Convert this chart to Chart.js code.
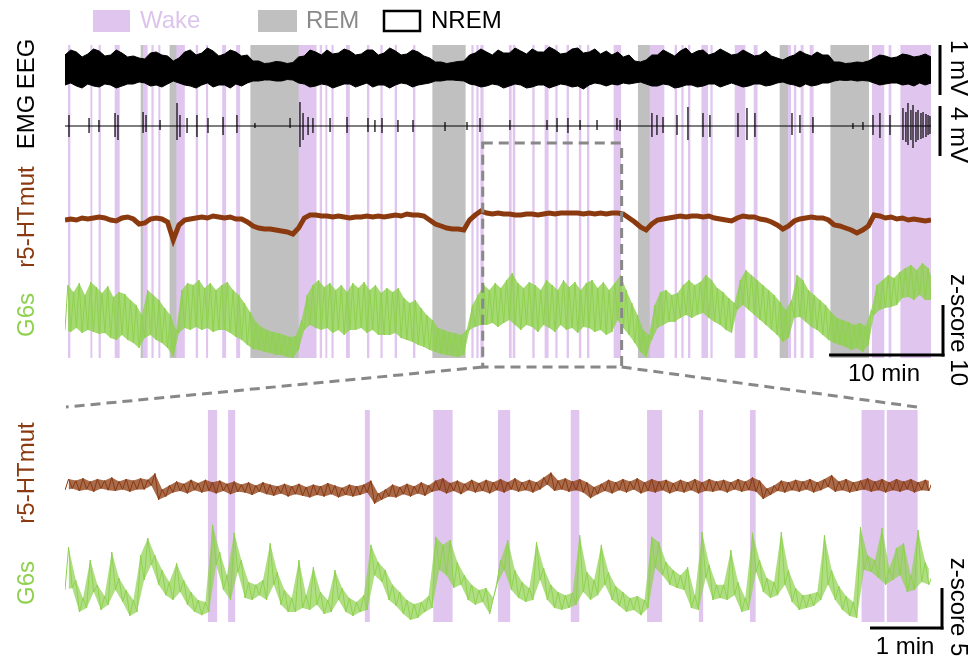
<!DOCTYPE html>
<html>
<head>
<meta charset="utf-8">
<script src="https://cdn.jsdelivr.net/npm/chart.js@4.4.0/dist/chart.umd.min.js"></script>
<style>
body{margin:0;background:#fff;}
#wrap{position:relative;width:974px;height:665px;}
canvas{position:absolute;left:0;top:0;}
</style>
</head>
<body>
<div id="wrap">
<canvas id="topChart" width="974" height="665"></canvas>
<canvas id="botChart" width="974" height="665"></canvas>
</div>
<script>
// ---- data, top panel (minutes) ----
var wakeTop = [[0.29,0.44],[2.26,2.37],[2.98,3.12],[4.39,4.77],[6.87,7.22],[7.61,7.75],[8.22,8.34],[9.80,10.49],[11.50,11.65],[12.40,12.53],[13.82,14.11],[15.05,15.34],[20.54,22.05],[22.38,22.53],[22.88,22.99],[23.41,23.55],[24.69,24.97],[26.53,26.68],[27.71,27.85],[28.96,29.11],[30.57,30.72],[35.69,35.83],[36.13,36.27],[36.48,36.71],[38.99,39.17],[39.32,39.49],[41.04,41.19],[42.12,42.41],[43.06,43.20],[44.05,44.20],[45.13,45.28],[45.84,45.99],[48.18,48.77],[51.34,52.57],[53.53,53.68],[54.12,54.26],[54.70,54.85],[55.88,56.40],[56.67,56.81],[58.80,59.68],[60.47,60.75],[63.48,63.69],[64.00,64.15],[64.59,64.79],[65.38,65.67],[70.85,71.87],[72.31,72.49],[73.34,75.97]];
var remTop = [[6.67,6.87],[9.21,9.80],[16.30,20.54],[32.27,35.13],[50.31,51.34],[62.75,63.48],[67.20,70.53]];

// EEG envelope, 0.5 min bins (mV)
var eegHi = [0.30,0.40,0.36,0.26,0.32,0.42,0.38,0.28,0.30,0.40,
    0.34,0.26,0.28,0.24,0.22,0.34,0.36,0.30,0.28,0.18,
    0.24,0.36,0.40,0.30,0.34,0.44,0.38,0.28,0.32,0.40,
    0.36,0.28,0.30,0.18,0.18,0.13,0.14,0.17,0.16,0.13,
    0.15,0.26,0.28,0.40,0.36,0.30,0.40,0.32,0.34,0.42,
    0.38,0.30,0.32,0.40,0.40,0.30,0.34,0.44,0.38,0.30,
    0.32,0.40,0.36,0.28,0.24,0.16,0.16,0.13,0.15,0.17,
    0.18,0.30,0.34,0.42,0.36,0.30,0.40,0.34,0.34,0.44,
    0.38,0.32,0.42,0.36,0.36,0.46,0.40,0.32,0.34,0.42,
    0.44,0.34,0.36,0.42,0.32,0.38,0.30,0.36,0.26,0.30,
    0.18,0.16,0.20,0.30,0.30,0.40,0.34,0.28,0.38,0.44,
    0.32,0.38,0.40,0.30,0.34,0.42,0.36,0.30,0.32,0.40,
    0.34,0.28,0.30,0.38,0.28,0.24,0.20,0.26,0.30,0.38,
    0.32,0.28,0.36,0.30,0.30,0.16,0.16,0.13,0.14,0.16,
    0.15,0.18,0.24,0.30,0.28,0.24,0.26,0.32,0.30,0.26,
    0.28,0.32,0.26];
var eegLo = [-0.30,-0.26,-0.32,-0.36,-0.28,-0.32,-0.34,-0.28,-0.30,-0.36,
    -0.32,-0.28,-0.28,-0.24,-0.26,-0.32,-0.30,-0.34,-0.28,-0.22,
    -0.26,-0.30,-0.32,-0.36,-0.30,-0.26,-0.34,-0.30,-0.30,-0.36,
    -0.28,-0.32,-0.26,-0.22,-0.22,-0.20,-0.20,-0.22,-0.22,-0.19,
    -0.20,-0.26,-0.28,-0.34,-0.32,-0.28,-0.30,-0.36,-0.32,-0.28,
    -0.28,-0.34,-0.30,-0.26,-0.34,-0.30,-0.30,-0.36,-0.30,-0.26,
    -0.28,-0.34,-0.30,-0.28,-0.26,-0.22,-0.22,-0.20,-0.20,-0.21,
    -0.22,-0.28,-0.30,-0.34,-0.32,-0.28,-0.30,-0.36,-0.32,-0.28,
    -0.30,-0.36,-0.34,-0.30,-0.30,-0.36,-0.32,-0.28,-0.30,-0.34,
    -0.32,-0.38,-0.30,-0.26,-0.28,-0.32,-0.28,-0.30,-0.26,-0.28,
    -0.26,-0.24,-0.28,-0.32,-0.32,-0.28,-0.30,-0.36,-0.34,-0.30,
    -0.30,-0.34,-0.32,-0.28,-0.28,-0.34,-0.30,-0.26,-0.30,-0.34,
    -0.32,-0.28,-0.28,-0.32,-0.30,-0.26,-0.24,-0.28,-0.30,-0.34,
    -0.28,-0.32,-0.30,-0.26,-0.26,-0.22,-0.20,-0.21,-0.20,-0.22,
    -0.21,-0.22,-0.26,-0.30,-0.28,-0.26,-0.26,-0.30,-0.28,-0.32,
    -0.26,-0.30,-0.26];

// EMG bursts: time (min), peak up / down (mV)
var emgT = [0.35,2.11,2.98,4.39,4.65,6.85,7.11,8.34,9.83,10.09,10.71,11.58,12.55,13.87,15.09,16.67,19.75,20.62,20.89,21.33,21.76,23.26,24.75,26.59,27.20,27.82,29.22,30.54,33.35,35.28,36.42,39.05,42.30,43.18,44.14,45.20,46.69,48.44,48.71,51.51,51.95,52.48,53.71,54.67,55.99,56.60,59.06,59.85,60.55,63.80,64.50,65.64,69.15,70.03,70.91,71.52,72.40,73.54,73.80,73.98,74.24,74.42,74.68,74.86,75.12,75.30,75.56,75.74,75.91];
var emgHi = [0.88,0.64,0.48,1.04,0.88,1.12,0.88,0.48,1.84,0.88,0.64,0.88,0.64,0.72,0.88,0.24,0.64,1.92,1.04,0.72,0.64,0.64,0.72,0.64,0.48,0.64,0.48,0.48,0.32,0.32,0.64,0.48,0.48,0.64,0.64,0.48,0.48,0.64,0.48,1.04,0.88,0.72,0.88,1.52,1.04,0.88,1.04,1.44,1.04,1.04,0.88,0.72,0.24,0.32,0.88,1.04,0.88,1.44,1.12,1.84,1.28,1.68,1.12,1.28,1.04,1.12,0.96,0.88,0.80];
var emgLo = [-0.88,-0.56,-0.48,-0.88,-1.12,-0.56,-0.48,-0.32,-1.12,-0.88,-0.56,-0.88,-0.56,-0.72,-0.56,-0.16,-0.16,-1.68,-1.12,-0.72,-0.56,-0.48,-0.56,-0.48,-0.48,-0.56,-0.48,-0.48,-0.40,-0.32,-0.48,-0.32,-0.32,-0.48,-0.56,-0.32,-0.32,-0.32,-0.40,-0.88,-0.72,-0.56,-0.72,-1.12,-0.88,-0.88,-0.88,-1.12,-0.88,-0.72,-0.56,-0.56,-0.24,-0.32,-0.72,-0.96,-0.72,-1.12,-1.28,-1.52,-1.12,-1.76,-1.28,-1.12,-1.04,-0.96,-0.88,-0.72,-0.64];

// r5-HTmut, 0.5 min bins (z)
var r5Top = [-0.4,-0.2,-0.4,0.0,-0.2,0.0,0.2,0.0,-0.4,-0.6, 0.0,0.2,-0.2,-1.2,-1.0,-0.2,0.0,-0.2,-0.8,-4.4, -1.4,-0.4,-0.2,0.0,0.2,0.0,0.4,0.2,0.0,0.2, -0.2,-0.2,-0.8,-1.6,-2.0,-2.2,-2.2,-2.4,-2.6,-2.8, -3.2,-2.0,0.0,0.6,0.6,0.4,0.4,0.2,0.4,0.2, 0.0,0.2,0.2,0.4,0.2,0.4,0.2,0.4,0.6,0.4, 0.8,0.6,0.6,0.4,-0.4,-1.2,-1.6,-2.0,-2.2,-2.2, -2.4,-0.4,0.6,1.4,1.0,0.8,1.0,0.8,0.8,0.6, 0.6,0.8,0.8,0.6,0.8,1.0,0.8,1.0,1.0,1.0, 1.0,0.8,1.0,0.8,1.0,0.8,1.0,1.0,0.8,0.0, -0.8,-1.8,-2.4,-1.2,-0.4,-0.2,0.0,0.2,0.4,0.2, 0.4,0.4,0.2,0.4,0.0,-0.2,-0.4,-0.6,0.0,0.4, 0.2,0.2,-0.2,-0.4,-0.8,-1.4,-2.2,-1.6,-0.6,-0.2, 0.0,0.2,0.0,0.0,-0.4,-1.4,-1.6,-2.0,-2.4,-3.0, -2.4,-1.6,0.6,0.4,0.0,0.2,-0.2,0.0,-0.4,-0.2, -0.4,-0.6,-0.4];

// G6s envelope, 0.5 min bins (z)
var g6TopHi = [9.0,7.6,9.4,7.0,9.6,8.6,7.4,8.8,6.6,7.6, 7.2,6.0,5.0,3.0,8.0,7.0,6.0,4.4,3.0,0.0, 8.0,9.4,9.0,10.0,8.4,9.4,8.0,9.0,9.6,8.0, 7.0,5.4,3.6,1.6,0.6,0.0,-0.4,-0.6,-1.0,-1.4, -1.2,2.0,7.0,9.0,10.0,8.6,9.4,8.0,9.0,7.6, 9.4,8.4,9.6,8.0,9.0,7.4,8.4,7.6,8.4,6.4, 5.4,6.0,4.4,3.0,2.0,0.4,0.0,-0.4,-0.6,-1.0, 0.0,5.0,7.0,9.0,8.0,9.4,8.4,10.0,11.4,9.4, 8.4,9.6,9.0,8.0,10.0,9.0,8.0,10.0,8.6,9.6, 8.0,9.4,10.0,8.4,9.6,8.0,9.4,11.0,8.0,5.4, 3.0,0.0,-1.0,5.0,7.6,8.0,7.0,7.4,9.0,10.0, 9.0,9.6,11.0,10.0,8.4,7.6,6.4,5.4,10.0,12.0, 11.0,10.0,9.0,8.0,7.0,5.6,4.0,6.0,11.0,10.0, 8.0,7.0,6.0,5.0,3.6,2.4,2.0,1.6,1.0,1.4, 0.8,4.0,9.0,10.0,11.0,10.4,11.6,12.4,13.0,12.0, 13.4,12.4,9.4];
var g6TopLo = [0.0,-0.4,0.4,-0.6,0.0,-0.4,-0.8,-0.6,-1.6,-2.0, -1.0,-2.0,-2.6,-3.6,-1.6,-1.0,-2.0,-2.6,-3.6,-5.4, -0.6,0.4,0.0,0.6,0.0,0.4,-0.4,0.0,0.0,-0.6, -1.4,-2.0,-3.0,-3.8,-4.0,-4.4,-4.6,-5.0,-5.0,-5.4, -5.6,-4.0,0.0,1.0,0.4,0.0,0.4,-0.6,0.0,-1.0, 0.0,0.0,0.4,-0.6,0.0,-1.0,-1.0,-1.0,-0.6,-1.6, -2.0,-2.4,-3.0,-3.4,-4.0,-4.4,-4.8,-5.0,-5.2,-5.4, -5.0,0.0,0.6,1.0,1.0,1.4,0.6,1.4,2.0,1.0, 0.0,1.0,0.6,-0.4,1.0,0.4,-0.4,1.0,0.0,0.4, -0.6,0.6,0.4,-0.4,0.0,-1.0,-0.4,2.0,0.4,-1.0, -2.6,-4.4,-5.4,-2.0,0.4,1.0,1.6,1.6,2.4,3.0, 2.4,3.0,3.4,2.4,1.6,1.0,0.0,-0.6,4.0,5.0, 4.0,3.0,2.0,1.0,0.0,-1.0,-2.4,-1.6,2.4,2.6, 1.6,0.6,0.0,-1.0,-2.0,-2.6,-3.0,-3.4,-4.0,-3.6, -4.4,-3.0,3.0,4.0,4.4,4.6,5.0,6.4,6.6,6.0, 7.0,6.0,6.0];

// zoom window (min on top axis)
var zoomStart = 36.66, zoomEnd = 48.85;

// ---- data, bottom panel (min from window start) ----
var wakeBot = [[1.99,2.11],[2.27,2.36],[4.17,4.23],[5.12,5.38],[6.02,6.18],[7.03,7.14],[8.09,8.29],[8.81,8.86],[9.52,9.59],[11.07,11.38],[11.42,11.84]];

// r5-HTmut, 0.1 min bins: low / high of the trace in each bin (z)
var r5BotLo = [-0.4,-0.2,-0.5,-0.3,-0.6,-0.2,-0.4,-0.5,-0.3,-0.6,-0.3,
    -0.3,0.2,-1.6,-1.2,-0.7,-0.5,-0.8,-0.4,-0.7,-0.5,
    -0.8,-0.5,-0.9,-0.6,-0.7,-1.0,-0.6,-0.9,-1.1,-0.8,
    -1.2,-0.9,-1.1,-1.3,-1.0,-1.2,-0.9,-1.3,-1.0,-1.2,
    -1.0,-0.7,-2.1,-1.6,-1.2,-1.3,-0.9,-1.2,-0.8,-1.1,
    -0.6,-0.4,-0.8,-0.5,-0.9,-0.4,-0.7,-0.5,-0.8,-0.4,
    -0.7,-0.3,-0.6,-0.4,-0.7,-0.3,0.3,-0.5,-0.3,-0.6,
    -0.4,-0.7,-1.4,-0.9,-0.5,-0.8,-0.4,-0.7,-0.3,-0.8,
    -0.5,-0.7,-0.4,-0.8,-0.5,-0.7,-0.4,-0.8,-0.5,-0.6,
    -0.4,-0.7,-0.3,-0.6,-0.4,-0.6,-1.5,-1.0,-0.5,-0.7,
    -0.4,-0.6,-0.3,-0.7,-0.4,0.0,-0.6,-0.4,-0.7,-0.5,
    -0.3,-0.6,-0.4,-0.7,-0.4,-0.6,-0.3,-0.7,-0.4,-0.5];
var r5BotHi = [1.0,0.8,1.1,0.7,1.0,0.8,1.2,0.7,1.0,0.8,1.1,
    0.9,1.7,-0.3,0.2,0.7,0.4,0.9,0.5,0.9,0.6,
    0.8,0.4,0.7,0.3,0.6,0.2,0.6,0.3,0.1,0.4,
    0.1,0.4,0.0,0.3,0.1,0.5,0.2,-0.1,0.3,0.1,
    0.3,0.8,-0.8,-0.3,0.3,0.0,0.4,0.1,0.6,0.2,
    0.8,1.1,0.5,0.8,0.4,0.9,0.5,0.9,0.6,1.0,
    0.6,1.1,0.6,0.9,0.6,1.2,1.8,0.8,1.1,0.7,
    1.0,0.6,0.0,0.4,0.9,0.6,1.0,0.7,1.1,0.6,
    1.0,0.7,0.9,0.5,0.9,0.6,1.0,0.6,1.0,0.7,
    0.9,0.6,1.0,0.7,1.2,0.8,-0.2,0.2,0.8,0.6,
    0.9,0.7,1.0,0.6,1.0,1.5,0.7,1.0,0.6,0.8,
    1.1,0.7,1.0,0.6,1.0,0.7,1.0,0.6,0.9,0.7];

// G6s, 0.1 min bins: low / high of the trace in each bin (z)
var g6BotLo = [1.25,1.5,-1.5,-1.0,1.0,-1.25,-0.6,1.25,-0.25,-2.0,
    -1.5,2.5,4.4,1.9,0.6,0.0,1.0,-0.6,-1.5,-1.9,
    -1.5,4.4,1.25,0.0,3.5,0.25,0.0,0.6,0.0,1.9,
    -0.6,-1.5,-1.5,-1.0,-1.25,-0.6,-1.75,-1.5,0.0,-1.5,
    -2.0,-1.5,-1.25,3.1,2.25,0.0,-0.75,-1.75,-2.5,-2.25,
    -1.5,-1.0,3.75,3.1,1.5,1.9,0.0,-0.6,-0.25,-1.75,
    1.9,3.75,1.25,0.25,-0.25,0.0,2.5,0.0,-1.0,-1.25,
    -1.0,-0.6,1.0,0.0,0.6,1.9,0.0,-0.75,-1.5,-1.25,
    -1.9,-1.0,4.0,3.1,1.9,1.5,1.25,-1.0,-1.25,2.75,
    0.0,0.25,0.0,0.6,-1.5,-1.25,3.5,1.0,0.25,0.6,
    1.9,-0.25,-1.25,-1.0,-0.75,0.0,1.9,0.0,-1.25,-2.0,
    -2.25,3.75,3.5,2.75,1.9,2.5,3.1,1.0,1.25,2.25,
    1.9];
var g6BotHi = [6.6,2.5,0.25,5.0,1.9,0.5,6.0,2.75,1.25,0.0,
    5.6,7.75,5.6,3.75,2.25,4.6,2.5,1.0,0.0,-0.25,
    9.4,6.0,3.1,8.4,5.0,2.25,1.9,2.5,7.1,3.5,
    1.25,0.25,5.0,0.6,4.1,1.0,0.0,3.75,1.5,0.25,
    -0.25,0.6,6.9,4.75,3.75,1.9,1.0,0.0,-0.5,-0.25,
    0.5,7.9,6.9,7.5,4.75,3.1,1.9,1.25,1.5,0.25,
    5.0,7.5,3.75,2.25,1.5,7.25,4.0,1.9,1.0,0.6,
    0.9,8.1,3.5,2.5,6.9,3.5,1.75,1.0,0.25,0.5,
    0.0,7.9,7.25,4.75,3.75,3.1,4.1,0.6,8.5,4.4,
    1.9,1.9,6.25,2.25,0.25,8.4,5.0,2.75,2.25,8.5,
    3.75,1.5,0.6,0.75,1.0,8.1,3.75,1.75,0.5,-0.25,
    9.1,5.6,5.0,9.0,4.0,6.5,7.1,3.1,8.75,4.75,
    3.1];

// ---- styles ----
var WAKE = '#e0c6ef', REM = '#c0c0c0', BROWN = '#8b3a0f', GREEN = '#8fd14f';
var FONT = '24px "Liberation Sans", Arial, sans-serif';
var NONE = 'rgba(0,0,0,0)';

function pts(step, vals, shift) {
    return vals.map(function (v, i) { return {x: i * step + (shift || 0), y: v}; });
}

// trace that runs low -> high inside every bin
function zigzag(step, lo, hi) {
    var out = [];
    for (var i = 0; i < lo.length; i++) {
        out.push({x: i * step, y: lo[i]}, {x: i * step + step / 2, y: hi[i]});
    }
    return out;
}

function emgPoints() {
    var out = [{x: 0, y: 0}];
    for (var i = 0; i < emgT.length; i++) {
        out.push({x: emgT[i], y: 0}, {x: emgT[i], y: emgHi[i]}, {x: emgT[i], y: emgLo[i]}, {x: emgT[i], y: 0});
    }
    out.push({x: 76, y: 0});
    return out;
}

function bands(list, color) {
    return {
        type: 'bar', indexAxis: 'y', xAxisID: 'x', yAxisID: 'band',
        data: list.map(function (p) { return {x: [p[0], p[1]], y: 's'}; }),
        backgroundColor: color, borderWidth: 0, grouped: false,
        barPercentage: 1, categoryPercentage: 1, order: 5
    };
}

function line(data, axis, color, width, fill, bg) {
    return {
        type: 'line', data: data, xAxisID: 'x', yAxisID: axis,
        borderColor: color, borderWidth: width, pointRadius: 0, tension: 0,
        fill: fill, backgroundColor: bg || color, order: 1
    };
}

// filled envelope (two datasets) + the trace drawn over it
function trace(step, lo, hi, axis, color, fillColor, width) {
    return [
        line(pts(step, lo), axis, NONE, 0, false),
        line(pts(step, hi, step / 2), axis, NONE, 0, '-1', fillColor),
        line(zigzag(step, lo, hi), axis, color, width, false)
    ];
}

function vText(c, txt, x, y, dir, color) {
    c.save();
    c.translate(x, y);
    c.rotate(dir * Math.PI / 2);
    c.fillStyle = color;
    c.font = FONT;
    c.textAlign = 'center';
    c.textBaseline = 'middle';
    c.fillText(txt, 0, 0);
    c.restore();
}

function hText(c, txt, x, y, color, align) {
    c.fillStyle = color;
    c.font = FONT;
    c.textAlign = align || 'center';
    c.textBaseline = 'middle';
    c.fillText(txt, x, y);
}

function bar(c, x1, y1, x2, y2) {
    c.beginPath();
    c.moveTo(x1, y1);
    c.lineTo(x2, y2);
    c.stroke();
}

var topDeco = {
    id: 'topDeco',
    afterDraw: function (chart) {
        var c = chart.ctx, s = chart.scales, a = chart.chartArea;
        c.save();
        // legend
        c.fillStyle = WAKE; c.fillRect(93, 10, 37, 22);
        hText(c, 'Wake', 140, 21, '#dcc4ec', 'left');
        c.fillStyle = REM; c.fillRect(258, 10, 39, 22);
        hText(c, 'REM', 306, 21, '#8a8a8a', 'left');
        c.strokeStyle = '#000'; c.lineWidth = 2.5; c.strokeRect(384, 11, 36, 20);
        hText(c, 'NREM', 431, 21, '#000', 'left');

        // trace names
        vText(c, 'EEG', 27, 64, -1, '#000');
        vText(c, 'EMG', 27, 122, -1, '#000');
        vText(c, 'r5-HTmut', 27, 217, -1, BROWN);
        vText(c, 'G6s', 27, 315, -1, GREEN);

        // scale bars
        c.strokeStyle = '#000'; c.lineWidth = 3; c.setLineDash([]);
        bar(c, 940, s.eeg.getPixelForValue(0.5), 940, s.eeg.getPixelForValue(-0.5));
        bar(c, 940, s.emg.getPixelForValue(1.6), 940, s.emg.getPixelForValue(-2.4));
        vText(c, '1 mV', 958, 68, 1, '#000');
        vText(c, '4 mV', 958, 135, 1, '#000');
        var zx = a.right + 12;
        var zb = s.g6.getPixelForValue(-5), zt = s.g6.getPixelForValue(5);
        bar(c, zx, zt, zx, zb + 1.5);
        var tenMin = s.x.getPixelForValue(10) - s.x.getPixelForValue(0);
        bar(c, zx - tenMin, zb, zx + 1.5, zb);
        vText(c, 'z-score 10', 958, 330, 1, '#000');
        hText(c, '10 min', zx - tenMin / 2 - 2, zb + 19, '#000');

        // zoom window + connectors
        var x1 = s.x.getPixelForValue(zoomStart), x2 = s.x.getPixelForValue(zoomEnd);
        c.strokeStyle = '#888'; c.lineWidth = 3; c.setLineDash([10, 6]);
        c.strokeRect(x1, 143, x2 - x1, 224);
        bar(c, x1, 367, 66, 407);
        bar(c, x2, 367, 917, 407);
        c.restore();
    }
};

var botDeco = {
    id: 'botDeco',
    afterDraw: function (chart) {
        var c = chart.ctx, s = chart.scales, a = chart.chartArea;
        c.save();
        vText(c, 'r5-HTmut', 27, 473, -1, BROWN);
        vText(c, 'G6s', 27, 583, -1, GREEN);
        c.strokeStyle = '#000'; c.lineWidth = 3;
        var zx = a.right + 11;
        var zb = s.g6.getPixelForValue(-3.5), zt = s.g6.getPixelForValue(1.5);
        bar(c, zx, zt, zx, zb + 1.5);
        var oneMin = s.x.getPixelForValue(1) - s.x.getPixelForValue(0);
        bar(c, zx - oneMin, zb, zx + 1.5, zb);
        vText(c, 'z-score 5', 958, 607, 1, '#000');
        hText(c, '1 min', zx - oneMin / 2 - 1, zb + 19, '#000');
        c.restore();
    }
};

function hidden(min, max, axis) {
    return {type: 'linear', axis: axis || 'y', min: min, max: max, display: false};
}

var common = {
    responsive: false, animation: false, devicePixelRatio: 1, events: [],
    plugins: {legend: {display: false}, tooltip: {enabled: false}}
};

new Chart(document.getElementById('topChart').getContext('2d'), {
    type: 'line',
    data: {
        datasets: [
            bands(wakeTop, WAKE),
            bands(remTop, REM),
            line(pts(0.5, eegLo), 'eeg', '#000', 1, false),
            line(pts(0.5, eegHi), 'eeg', '#000', 1, '-1', '#000'),
            line(emgPoints(), 'emg', '#000', 1.2, false),
            line(pts(0.5, r5Top), 'r5', BROWN, 5, false)
        ].concat(trace(0.5, g6TopLo, g6TopHi, 'g6', GREEN, 'rgba(143,209,79,0.8)', 1))
    },
    options: Object.assign({}, common, {
        layout: {padding: {left: 65, top: 45, right: 43, bottom: 307}},
        scales: {
            x: hidden(0, 76, 'x'),
            band: {type: 'category', axis: 'y', labels: ['s'], offset: true, display: false},
            eeg: hidden(-5.76, 0.5),
            emg: hidden(-18.56, 6.48),
            r5: hidden(-28.0, 34.6),
            g6: hidden(-5.6, 57)
        }
    }),
    plugins: [topDeco]
});

new Chart(document.getElementById('botChart').getContext('2d'), {
    type: 'line',
    data: {
        datasets: [bands(wakeBot, WAKE)]
            .concat(trace(0.1, r5BotLo, r5BotHi, 'r5', BROWN, 'rgba(139,58,15,0.75)', 1))
            .concat(trace(0.1, g6BotLo, g6BotHi, 'g6', GREEN, 'rgba(143,209,79,0.7)', 1))
    },
    options: Object.assign({}, common, {
        layout: {padding: {left: 65, top: 410, right: 43, bottom: 43}},
        scales: {
            x: hidden(0, 12.03, 'x'),
            band: {type: 'category', axis: 'y', labels: ['s'], offset: true, display: false},
            r5: hidden(-16.875, 9.625),
            g6: hidden(-2.75, 23.75)
        }
    }),
    plugins: [botDeco]
});
</script>
</body>
</html>
